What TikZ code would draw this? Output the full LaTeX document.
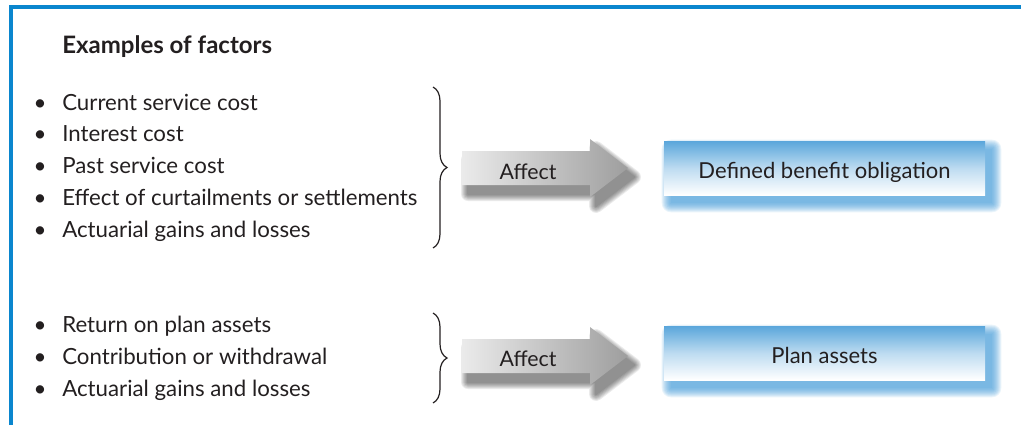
\documentclass[tikz,border=0pt]{standalone}
\usepackage{fontspec}
\setmainfont{Lato}
\usetikzlibrary{calc,backgrounds,decorations.pathreplacing}
\definecolor{frameblue}{HTML}{0A86CE}
\definecolor{ink}{HTML}{231F20}
\definecolor{boxtop}{HTML}{5AA6DB}
\definecolor{glowblue}{HTML}{3F98D6}

% outline of the "Affect" arrow, left middle point at the origin
\newcommand\affectshape{(0,-17) -- (128,-17) -- (128,-29) -- (166,0) -- (128,29) -- (128,17) -- (0,17) -- cycle}

\tikzset{
  txt/.style={inner sep=0pt, text=ink, font=\fontsize{16.7}{20}\selectfont},
  item/.style={txt, anchor=base west},
  dot/.style={txt, anchor=base},
  heading/.style={txt, anchor=base west, font=\fontsize{18}{21}\selectfont\bfseries},
  arrowtext/.style={txt, anchor=base, font=\fontsize{16}{19}\selectfont},
  bluebox/.style={rectangle, inner sep=0pt, minimum width=240.75pt, minimum height=40.5pt,
    text height=15pt, text depth=0pt,
    top color=boxtop, bottom color=white, middle color=boxtop!40, text=ink,
    font=\fontsize{16.5}{19}\selectfont},
  bracket/.style={draw=ink, line width=0.9pt, decorate, decoration={brace, amplitude=10.5pt}},
  arrowfill/.style={left color=black!8, right color=black!38},
}

\begin{document}
\begin{tikzpicture}[x=0.75pt, y=-0.75pt]
\useasboundingbox (0,0) rectangle (1021,425);

% frame
\draw[frameblue, line width=3pt] (11,425) -- (11,7) -- (1021,7);

% heading
\node[heading] (head) at (62,53) {Examples of factors};

% factors affecting the obligation
\foreach \t [count=\i, evaluate=\i as \yb using {110+31.75*(\i-1)}] in
  {Current service cost, Interest cost, Past service cost,
   Effect of curtailments or settlements, Actuarial gains and losses}{
  \node[dot] (od\i) at (40,\yb) {\textbullet};
  \node[item] (of\i) at (62,\yb) {\t};
}

% factors affecting the plan assets
\foreach \t [count=\i, evaluate=\i as \yb using {332.5+31.75*(\i-1)}] in
  {Return on plan assets, Contribution or withdrawal, Actuarial gains and losses}{
  \node[dot] (pd\i) at (40,\yb) {\textbullet};
  \node[item] (pf\i) at (62,\yb) {\t};
}

% braces
\coordinate (b1t) at (433,87);
\coordinate (b1b) at (433,248);
\coordinate (b2t) at (433,313);
\coordinate (b2b) at (433,403);
\draw[bracket] (b1t) -- (b1b);
\draw[bracket] (b2t) -- (b2b);

% arrows with soft shadows
\foreach \yc in {168, 356}{
  \foreach \r in {1,...,7}{
    \begin{scope}[transparency group, opacity=0.08]
      \path[fill=black, draw=black, line width=1.5*\r pt, line join=round,
            shift={(468,\yc+9)}] \affectshape;
    \end{scope}
  }
  \path[arrowfill, shift={(462,\yc)}] \affectshape;
}
\node[arrowtext] (aff1) at (528,179) {Affect};
\node[arrowtext] (aff2) at (528,366) {Affect};

% result boxes
\node[bluebox] (dbo) at (824.5,168) {Defined benefit obligation};
\node[bluebox] (pa) at (824.5,353) {Plan assets};
\begin{scope}[on background layer]
  \foreach \b in {dbo, pa}{
    \foreach \r in {0,...,9}{
      \fill[glowblue, opacity=0.11, rounded corners=0.75*\r pt]
        ($(\b.north west)+(7-\r,8-\r)$) rectangle ($(\b.south east)+(7+\r,8+\r)$);
    }
  }
\end{scope}
\end{tikzpicture}
\end{document}
